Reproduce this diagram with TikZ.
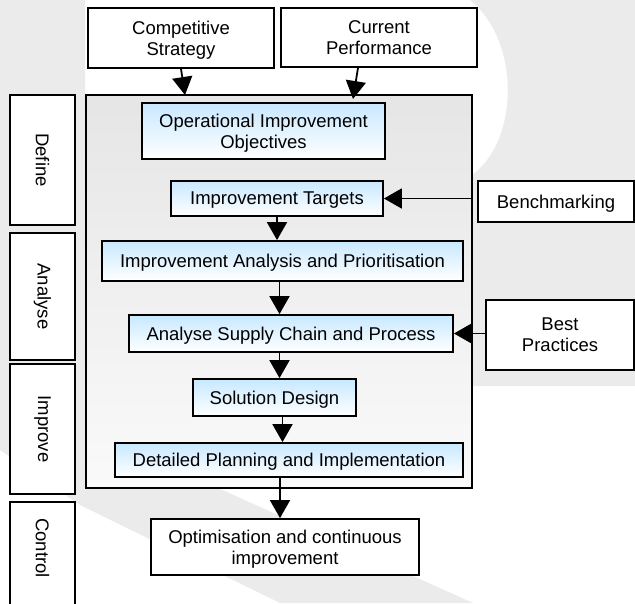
\documentclass[tikz,border=0pt]{standalone}
\usepackage{fontspec}
\setmainfont{Liberation Sans}
\usetikzlibrary{arrows.meta}
\definecolor{lightblue}{RGB}{200,232,255}
\definecolor{wmgrey}{RGB}{235,235,235}

\begin{document}
\begin{tikzpicture}[x=1pt,y=-1pt,
  font=\fontsize{18.5}{21}\selectfont,
  box/.style={draw,line width=1.8pt,fill=white,align=center,inner sep=0pt,text depth=0pt},
  stage/.style={draw,line width=1.8pt,fill=white,inner sep=0pt,rotate=-90},
  phase/.style={draw,line width=1.8pt,top color=lightblue,bottom color=white,align=center,inner sep=0pt,text depth=0pt},
  arr/.style={line width=1.8pt,-{Triangle[width=20pt,length=18pt]}}]
\useasboundingbox (0,0) rectangle (635,603);
% Watermark in the background
\fill[wmgrey] (0,0) -- (85,0) -- (85,428) -- (473,603) -- (280,603) -- (80,505) -- (0,450) -- cycle;
\fill[wmgrey] (470,0) .. controls (520,40) and (520,140) .. (472,175) -- (472,386) -- (635,386) -- (635,0) -- cycle;
% Frame round the steps
\node[draw,line width=1.8pt,top color=black!10,bottom color=black!2,minimum width=386pt,minimum height=393pt] (frame) at (279,291.5) {};
% Inputs at the top
\node[box,minimum width=186pt,minimum height=60pt] (strategy) at (181,38) {Competitive\\Strategy};
\node[box,minimum width=196pt,minimum height=59pt] (performance) at (379,37.5) {Current\\Performance};
% Inputs at the side
\node[box,minimum width=156pt,minimum height=41pt] (bench) at (556,201.5) {Benchmarking};
\node[box,minimum width=148pt,minimum height=70pt] (practices) at (560,335) {Best\\Practices};
% Stages on the left
\node[stage,minimum width=130pt,minimum height=65pt] (define) at (42.5,160) {Define};
\node[stage,minimum width=127pt,minimum height=65pt] (analyse) at (42.5,296.5) {Analyse};
\node[stage,minimum width=130pt,minimum height=65pt] (improve) at (42.5,429) {Improve};
\node[stage,minimum width=108pt,minimum height=65pt] (control) at (42.5,556) {Control\hspace*{16pt}};
% Steps
\node[phase,minimum width=243pt,minimum height=56pt] (objectives) at (263.5,131) {Operational Improvement\\Objectives};
\node[phase,minimum width=212pt,minimum height=35pt] (targets) at (277,198.5) {Improvement Targets};
\node[phase,minimum width=361pt,minimum height=40pt] (analysis) at (282.5,261) {Improvement Analysis and Prioritisation};
\node[phase,minimum width=324pt,minimum height=37pt] (supply) at (291,333.5) {Analyse Supply Chain and Process};
\node[phase,minimum width=163pt,minimum height=37pt] (design) at (274.5,397.5) {Solution Design};
\node[phase,minimum width=348pt,minimum height=34pt] (planning) at (289,460) {Detailed Planning and Implementation};
% Output
\node[box,minimum width=268pt,minimum height=56pt] (optimise) at (285,547) {Optimisation and continuous\\improvement};
% Arrows into the frame
\coordinate (strategyin) at (185,95);
\coordinate (performancein) at (353,99);
\draw[arr] (strategy.south) -- (strategyin);
\draw[arr] ([xshift=-21pt]performance.south) -- (performancein);
\draw[arr] (frame.east |- targets.east) -- (targets.east);
\draw[arr] (practices.west |- supply.east) -- (supply.east);
% Arrows between the steps
\draw[arr] (targets.south) -- (targets.south |- analysis.north);
\draw[arr] ([xshift=-3pt]analysis.south) -- ([xshift=-3pt]analysis.south |- supply.north);
\draw[arr] ([xshift=5pt]design.north |- supply.south) -- ([xshift=5pt]design.north);
\draw[arr] ([xshift=8pt]design.south) -- ([xshift=8pt]design.south |- planning.north);
\draw[arr] ([xshift=-5pt]optimise.north |- planning.south) -- ([xshift=-5pt]optimise.north);
\end{tikzpicture}
\end{document}
